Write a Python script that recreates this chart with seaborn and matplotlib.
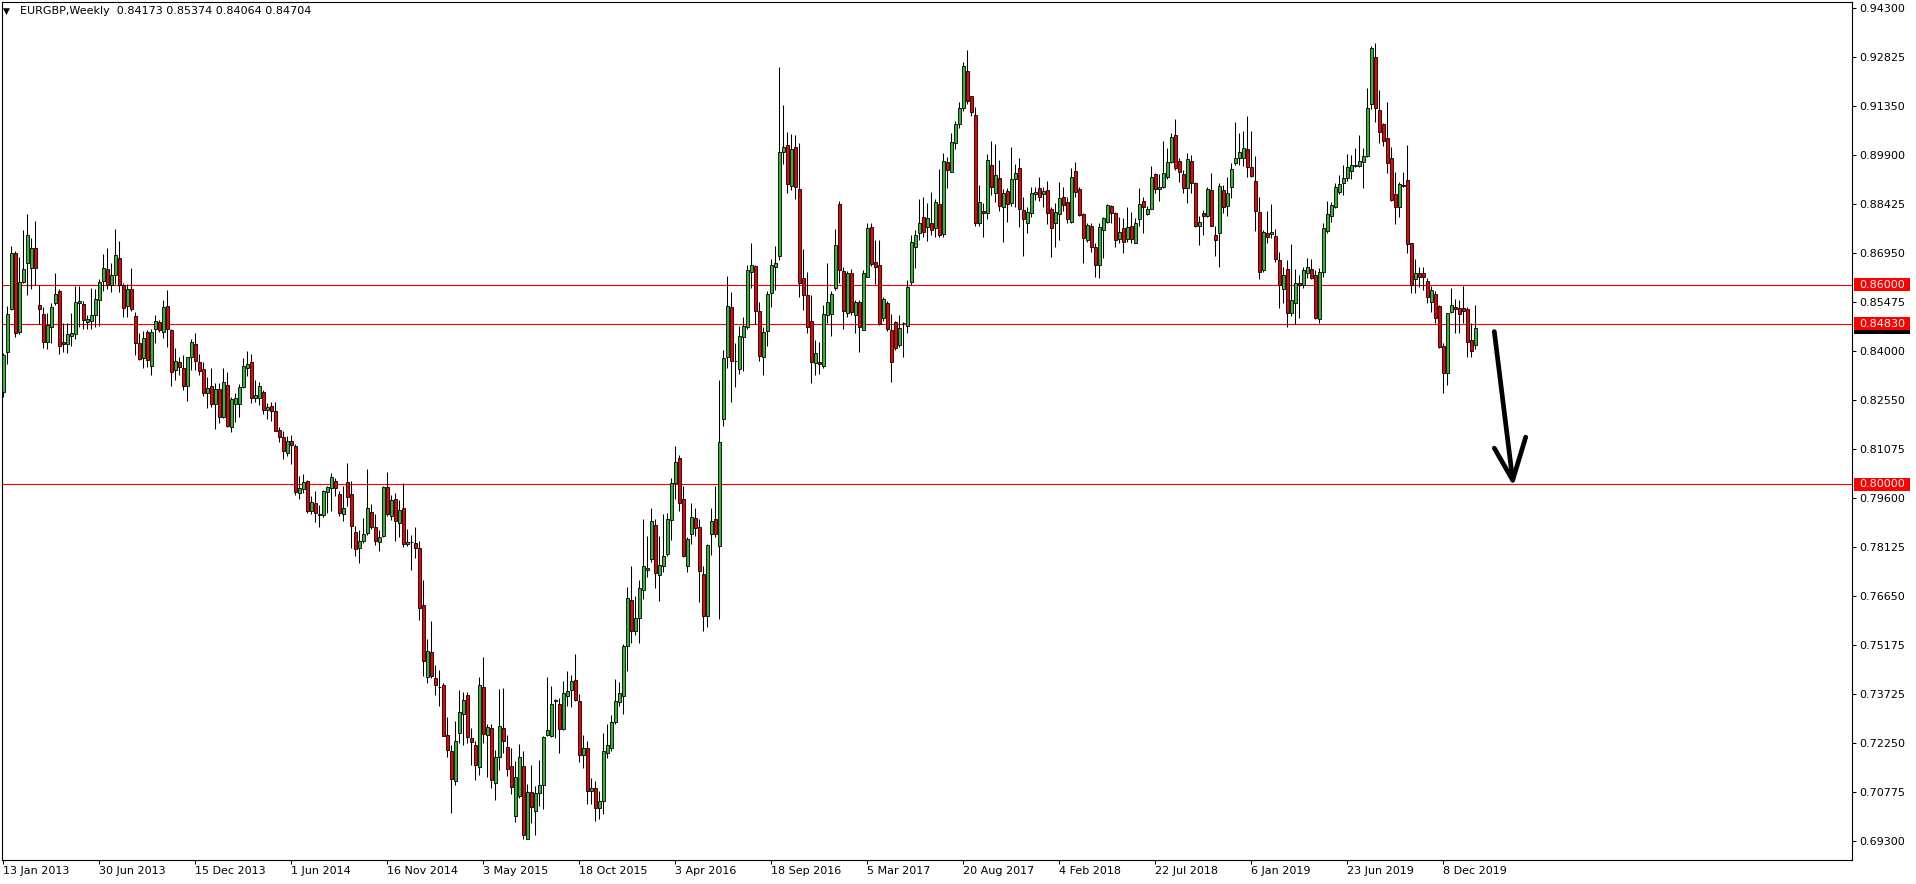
import matplotlib
matplotlib.use("Agg")
import matplotlib.pyplot as plt
import seaborn as sns
import pandas as pd
from matplotlib.transforms import IdentityTransform
from matplotlib.patches import Rectangle

# ---------------- data (EURGBP weekly) ----------------
opens = [
    .8277,.8399,.8528,.8695,.8458,.8607,.8666,.8649,.8709,.8538,
    .8511,.8427,.8472,.8544,.8581,.8427,.8423,.8447,.8451,.8544,
    .8542,.8487,.8490,.8508,.8554,.8610,.8646,.8599,.8630,.8679,
    .8598,.8535,.8587,.8505,.8425,.8381,.8458,.8355,.8466,.8487,
    .8459,.8535,.8463,.8343,.8367,.8349,.8295,.8384,.8422,.8368,
    .8346,.8276,.8295,.8241,.8286,.8204,.8298,.8174,.8241,.8241,
    .8294,.8351,.8367,.8261,.8261,.8277,.8223,.8235,.8220,.8163,
    .8143,.8093,.8131,.8116,.7974,.7986,.8010,.7919,.7944,.7912,
    .7908,.7977,.7989,.8010,.7971,.7912,.8007,.7972,.7857,.7808,
    .7830,.7854,.7918,.7871,.7826,.7844,.7992,.7904,.7956,.7884,
    .7929,.7820,.7827,.7824,.7809,.7638,.7422,.7497,.7419,.7393,
    .7398,.7248,.7201,.7109,.7253,.7311,.7368,.7239,.7219,.7152,
    .7392,.7247,.7269,.7104,.7182,.7269,.7212,.7154,.7006,.7066,
    .7154,.6936,.7076,.7019,.7074,.7098,.7247,.7244,.7350,.7341,
    .7266,.7364,.7382,.7414,.7351,.7189,.7210,.7080,.7090,.7030,
    .7050,.7195,.7208,.7287,.7347,.7364,.7514,.7653,.7561,.7600,
    .7683,.7743,.7776,.7877,.7727,.7756,.7792,.7892,.8004,.8079,
    .7957,.7756,.7851,.7899,.7872,.7732,.7604,.7851,.7895,.7815,
    .8198,.8383,.8532,.8370,.8348,.8442,.8472,.8639,.8656,.8522,
    .8382,.8462,.8574,.8654,.8687,.8999,.9018,.8897,.9012,.8886,
    .8619,.8569,.8491,.8364,.8369,.8356,.8509,.8512,.8589,.8842,
    .8641,.8514,.8634,.8509,.8547,.8464,.8624,.8774,.8668,.8658,
    .8500,.8544,.8464,.8489,.8419,.8484,.8476,.8609,.8714,.8756,
    .8802,.8772,.8784,.8769,.8842,.8751,.8967,.8939,.9024,.9081,
    .9129,.9241,.9166,.9109,.8786,.8821,.8816,.8959,.8874,.8919,
    .8834,.8882,.8846,.8916,.8949,.8824,.8784,.8814,.8871,.8889,
    .8871,.8884,.8827,.8784,.8811,.8864,.8847,.8787,.8941,.8886,
    .8812,.8734,.8776,.8712,.8659,.8764,.8789,.8836,.8814,.8738,
    .8769,.8736,.8776,.8726,.8796,.8851,.8812,.8828,.8932,.8886,
    .8892,.8922,.8969,.9049,.8972,.8932,.8889,.8972,.8904,.8777,
    .8814,.8806,.8884,.8749,.8756,.8884,.8836,.8894,.8964,.8981,
    .8981,.9007,.8953,.8911,.8817,.8644,.8754,.8752,.8746,.8674,
    .8586,.8646,.8516,.8546,.8606,.8599,.8636,.8646,.8629,.8497,
    .8637,.8761,.8806,.8834,.8879,.8906,.8919,.8942,.8956,.8956,
    .8969,.8987,.9141,.9282,.9124,.9082,.9039,.8979,.8872,.8832,
    .8900,.8914,.8724,.8616,.8634,.8634,.8612,.8549,.8571,.8536,
    .8416,.8336,.8519,.8532,.8529,.8529,.8526,.8434,.84173,
]
highs = [
    .8394,.8536,.8716,.8702,.8684,.8764,.8812,.8739,.8791,.8598,
    .8534,.8516,.8546,.8634,.8588,.8484,.8486,.8514,.8596,.8596,
    .8552,.8510,.8589,.8588,.8616,.8692,.8709,.8666,.8767,.8732,
    .8604,.8602,.8649,.8518,.8454,.8462,.8464,.8466,.8509,.8494,
    .8554,.8584,.8468,.8409,.8384,.8389,.8382,.8437,.8454,.8392,
    .8369,.8324,.8349,.8304,.8304,.8349,.8337,.8262,.8274,.8302,
    .8379,.8401,.8392,.8314,.8309,.8284,.8244,.8249,.8249,.8174,
    .8159,.8144,.8149,.8122,.8024,.8032,.8014,.7964,.7980,.7939,
    .7984,.7996,.8034,.8019,.7979,.7994,.8064,.8009,.7874,.7862,
    .7899,.8046,.7942,.7912,.7864,.7994,.8038,.7969,.7974,.7954,
    .8004,.7866,.7849,.7872,.7829,.7714,.7536,.7591,.7459,.7444,
    .7404,.7301,.7219,.7291,.7384,.7378,.7378,.7269,.7229,.7421,
    .7482,.7282,.7282,.7204,.7386,.7389,.7249,.7209,.7169,.7222,
    .7199,.7102,.7159,.7096,.7172,.7246,.7422,.7394,.7356,.7359,
    .7411,.7441,.7429,.7492,.7372,.7248,.7230,.7120,.7110,.7080,
    .7254,.7281,.7307,.7415,.7406,.7521,.7693,.7756,.7666,.7712,
    .7897,.7844,.7928,.7897,.7846,.7912,.7914,.8020,.8115,.8089,
    .7994,.7842,.7944,.7928,.7895,.7756,.7822,.7930,.7994,.8313,
    .8403,.8625,.8578,.8426,.8476,.8504,.8659,.8726,.8659,.8549,
    .8472,.8582,.8676,.8716,.9252,.9139,.9057,.9051,.9049,.9024,
    .8706,.8637,.8569,.8434,.8427,.8539,.8666,.8582,.8767,.8852,
    .8654,.8642,.8646,.8554,.8554,.8644,.8784,.8784,.8734,.8734,
    .8562,.8552,.8512,.8491,.8509,.8489,.8614,.8749,.8764,.8857,
    .8864,.8846,.8877,.8856,.8947,.8996,.8984,.9054,.9092,.9149,
    .9269,.9304,.9166,.9134,.8899,.8846,.8992,.9032,.9022,.8974,
    .8886,.8889,.9014,.8962,.8979,.8864,.8834,.8892,.8892,.8924,
    .8892,.8912,.8834,.8844,.8907,.8894,.8864,.8949,.8969,.8892,
    .8814,.8786,.8784,.8724,.8784,.8804,.8842,.8839,.8817,.8804,
    .8799,.8832,.8819,.8799,.8889,.8864,.8836,.8956,.8936,.8932,
    .9031,.9009,.9054,.9097,.8979,.8944,.8996,.8989,.8909,.8806,
    .8824,.8892,.8936,.8776,.8906,.8899,.8924,.8966,.9089,.9056,
    .9062,.9106,.9062,.8986,.8864,.8764,.8821,.8841,.8766,.8698,
    .8652,.8674,.8722,.8647,.8629,.8652,.8679,.8676,.8644,.8649,
    .8784,.8851,.8849,.8904,.8929,.8959,.8991,.8989,.9009,.9049,
    .9009,.9189,.9316,.9324,.9184,.9084,.9149,.9012,.8939,.8909,
    .8939,.9019,.8724,.8676,.8652,.8652,.8619,.8596,.8582,.8539,
    .8424,.8516,.8591,.8556,.8554,.8596,.8534,.8484,.85374,
]
lows = [
    .8262,.8361,.8524,.8444,.8452,.8604,.8570,.8586,.8599,.8481,
    .8411,.8406,.8424,.8539,.8393,.8399,.8396,.8416,.8436,.8474,
    .8468,.8468,.8466,.8474,.8477,.8582,.8586,.8578,.8601,.8577,
    .8502,.8504,.8522,.8389,.8374,.8349,.8352,.8329,.8424,.8459,
    .8439,.8414,.8297,.8314,.8329,.8284,.8251,.8344,.8344,.8328,
    .8266,.8229,.8232,.8166,.8186,.8199,.8174,.8156,.8189,.8202,
    .8289,.8326,.8244,.8249,.8239,.8212,.8196,.8192,.8159,.8126,
    .8077,.8084,.8062,.7969,.7957,.7974,.7914,.7912,.7886,.7871,
    .7902,.7914,.7919,.7964,.7906,.7889,.7934,.7809,.7784,.7764,
    .7824,.7849,.7866,.7819,.7799,.7842,.7904,.7894,.7829,.7842,
    .7812,.7816,.7744,.7779,.7592,.7426,.7404,.7419,.7369,.7336,
    .7244,.7181,.7014,.7099,.7224,.7219,.7224,.7159,.7114,.7129,
    .7224,.7122,.7089,.7052,.7144,.7194,.7124,.7072,.6986,.7059,
    .6936,.6936,.6984,.6947,.7036,.7026,.7244,.7242,.7239,.7194,
    .7264,.7334,.7332,.7349,.7166,.7150,.7040,.7040,.6990,.6995,
    .7010,.7180,.7200,.7281,.7334,.7311,.7439,.7525,.7547,.7525,
    .7657,.7723,.7767,.7690,.7650,.7736,.7785,.7833,.7957,.7921,
    .7782,.7736,.7822,.7844,.7648,.7561,.7571,.7789,.7842,.7595,
    .8176,.8350,.8247,.8294,.8333,.8342,.8466,.8589,.8482,.8372,
    .8329,.8416,.8532,.8584,.8674,.8962,.8876,.8884,.8856,.8564,
    .8524,.8456,.8304,.8329,.8332,.8349,.8484,.8446,.8584,.8606,
    .8467,.8504,.8509,.8454,.8399,.8464,.8622,.8656,.8602,.8479,
    .8492,.8462,.8309,.8404,.8414,.8382,.8456,.8599,.8649,.8734,
    .8744,.8732,.8749,.8742,.8742,.8742,.8889,.8937,.9007,.9071,
    .9122,.9142,.9106,.8776,.8776,.8744,.8796,.8869,.8849,.8822,
    .8729,.8789,.8836,.8834,.8774,.8687,.8756,.8804,.8854,.8852,
    .8834,.8782,.8684,.8714,.8734,.8822,.8786,.8786,.8862,.8806,
    .8664,.8729,.8699,.8624,.8619,.8679,.8784,.8786,.8714,.8724,
    .8696,.8729,.8724,.8724,.8776,.8756,.8809,.8826,.8874,.8852,
    .8889,.8916,.8966,.8944,.8909,.8874,.8846,.8876,.8774,.8719,
    .8749,.8804,.8776,.8686,.8654,.8814,.8806,.8861,.8959,.8959,
    .8956,.8924,.8924,.8762,.8616,.8639,.8724,.8739,.8669,.8529,
    .8544,.8472,.8506,.8482,.8499,.8589,.8619,.8616,.8496,.8486,
    .8622,.8756,.8789,.8829,.8871,.8869,.8912,.8916,.8952,.8954,
    .8889,.8984,.9127,.9089,.9026,.9016,.8936,.8852,.8782,.8802,
    .8894,.8694,.8574,.8574,.8594,.8584,.8544,.8519,.8484,.8409,
    .8274,.8299,.8516,.8454,.8454,.8484,.8384,.8384,.84064,
]
closes = [
    .8389,.8511,.8695,.8456,.8607,.8646,.8749,.8709,.8649,.8526,
    .8427,.8479,.8533,.8571,.8415,.8423,.8451,.8455,.8547,.8551,
    .8495,.8496,.8508,.8557,.8607,.8649,.8600,.8628,.8688,.8600,
    .8529,.8587,.8526,.8426,.8377,.8439,.8373,.8457,.8490,.8464,
    .8533,.8466,.8339,.8370,.8352,.8295,.8382,.8427,.8370,.8340,
    .8276,.8289,.8241,.8286,.8202,.8307,.8177,.8257,.8259,.8292,
    .8355,.8361,.8261,.8268,.8295,.8223,.8232,.8220,.8160,.8141,
    .8099,.8130,.8117,.7976,.7989,.8007,.7919,.7947,.7914,.7908,
    .7980,.7992,.8022,.7989,.7913,.7929,.7962,.7874,.7806,.7831,
    .7851,.7929,.7871,.7829,.7842,.7992,.7910,.7954,.7889,.7924,
    .7820,.7828,.7826,.7809,.7629,.7469,.7501,.7426,.7397,.7391,
    .7246,.7204,.7116,.7229,.7317,.7354,.7241,.7226,.7157,.7398,
    .7251,.7272,.7114,.7182,.7276,.7229,.7146,.7091,.7122,.7182,
    .6947,.7076,.7032,.7074,.7098,.7242,.7262,.7341,.7352,.7266,
    .7374,.7381,.7411,.7352,.7189,.7210,.7080,.7090,.7030,.7050,
    .7200,.7218,.7287,.7349,.7373,.7515,.7660,.7561,.7600,.7690,
    .7756,.7750,.7891,.7734,.7759,.7785,.7895,.8004,.8068,.7944,
    .7785,.7835,.7901,.7868,.7740,.7604,.7819,.7891,.7851,.8128,
    .8379,.8535,.8370,.8372,.8446,.8477,.8644,.8658,.8522,.8387,
    .8457,.8572,.8658,.8664,.8997,.9012,.8901,.9007,.8894,.8606,
    .8569,.8474,.8367,.8394,.8362,.8512,.8547,.8572,.8719,.8644,
    .8522,.8634,.8519,.8547,.8472,.8634,.8769,.8662,.8654,.8482,
    .8556,.8466,.8369,.8409,.8469,.8486,.8592,.8727,.8749,.8784,
    .8759,.8799,.8764,.8847,.8749,.8972,.8944,.9027,.9081,.9129,
    .9256,.9152,.9117,.8786,.8847,.8814,.8974,.8894,.8929,.8836,
    .8874,.8841,.8916,.8936,.8826,.8796,.8817,.8874,.8879,.8864,
    .8881,.8814,.8771,.8817,.8859,.8838,.8796,.8922,.8879,.8809,
    .8739,.8779,.8712,.8659,.8774,.8801,.8839,.8814,.8734,.8757,
    .8729,.8774,.8736,.8786,.8841,.8834,.8826,.8922,.8886,.8892,
    .8934,.8967,.9042,.8949,.8939,.8889,.8976,.8904,.8776,.8788,
    .8807,.8886,.8776,.8734,.8897,.8832,.8874,.8946,.8981,.8997,
    .9010,.8954,.8927,.8822,.8637,.8758,.8744,.8758,.8676,.8599,
    .8628,.8514,.8554,.8604,.8599,.8644,.8652,.8621,.8499,.8637,
    .8769,.8812,.8838,.8892,.8901,.8919,.8952,.8959,.8959,.8971,
    .8986,.9129,.9309,.9129,.9059,.9032,.8966,.8854,.8832,.8902,
    .8896,.8721,.8599,.8634,.8624,.8622,.8562,.8584,.8499,.8414,
    .8334,.8514,.8538,.8526,.8512,.8522,.8429,.8401,.84704,
]

date_labels = ["13 Jan 2013", "30 Jun 2013", "15 Dec 2013", "1 Jun 2014",
               "16 Nov 2014", "3 May 2015", "18 Oct 2015", "3 Apr 2016",
               "18 Sep 2016", "5 Mar 2017", "20 Aug 2017", "4 Feb 2018",
               "22 Jul 2018", "6 Jan 2019", "23 Jun 2019", "8 Dec 2019"]
label_step = 24  # bars between date labels

price_ticks = [0.94300, 0.92825, 0.91350, 0.89900, 0.88425, 0.86950,
               0.85475, 0.84000, 0.82550, 0.81075, 0.79600, 0.78125,
               0.76650, 0.75175, 0.73725, 0.72250, 0.70775, 0.69300]
levels = [0.86000, 0.84830, 0.80000]
last_price = 0.84704
title = "EURGBP,Weekly  0.84173 0.85374 0.84064 0.84704"

# arrow annotation (bar index, price)
arrow_shaft = ([372.75, 377.35], [0.8459, 0.8013])
arrow_head = ([372.75, 377.35, 380.6], [0.8109, 0.8013, 0.8142])

# ---------------- styling ----------------
GREEN = "#33b633"
RED = "#f00000"
W, H = 1916, 884

sns.set_theme(style="white")
plt.rcParams["font.family"] = ["DejaVu Sans"]

fig = plt.figure(figsize=(W / 100, H / 100), dpi=100)
fig.patch.set_facecolor("white")
ax = fig.add_axes([2 / W, 24 / H, 1850 / W, 858 / H])
ax.set_facecolor("white")

df = pd.DataFrame({"open": opens, "high": highs, "low": lows, "close": closes})
df["idx"] = range(len(df))
df["dir"] = ["up" if c >= o else "down" for o, c in zip(df["open"], df["close"])]

# level lines
for lv in levels:
    ax.axhline(lv, color="#ff0000", linewidth=0.8, zorder=1)

# wicks
ax.vlines(df["idx"], df["low"], df["high"], color="black", linewidth=0.75, zorder=2)
# bodies
for d, col in [("up", GREEN), ("down", RED)]:
    s = df[df["dir"] == d]
    h = (s["close"] - s["open"]).abs().clip(lower=0.00003)
    b = s[["open", "close"]].min(axis=1)
    ax.bar(s["idx"], h, bottom=b, width=0.8, color=col,
           edgecolor="black", linewidth=0.6, zorder=3)

# arrow
ax.plot(*arrow_shaft, color="black", linewidth=3.4, solid_capstyle="round", zorder=6)
ax.plot(*arrow_head, color="black", linewidth=3.4, solid_capstyle="round",
        solid_joinstyle="round", zorder=6)

ax.set_xlim(-0.325, 462.175)
ax.set_ylim(0.68730, 0.94480)

for sp in ax.spines.values():
    sp.set_visible(True)
    sp.set_color("black")
    sp.set_linewidth(0.8)

# y axis on the right
ax.yaxis.tick_right()
ax.set_yticks(price_ticks)
ax.set_yticklabels([f"{v:.5f}" for v in price_ticks])
ax.tick_params(axis="y", which="both", left=False, right=True, direction="out",
               length=2.9, width=0.75, pad=2.6, labelsize=8, colors="black")

# x axis dates
xt = [i * label_step for i in range(len(date_labels))]
ax.set_xticks(xt)
ax.set_xticklabels(date_labels, ha="left")
ax.tick_params(axis="x", which="both", bottom=True, top=False, direction="out",
               length=2.9, width=0.75, pad=1.5, labelsize=8, colors="black")

# price boxes on the right scale
ident = IdentityTransform()

def box_at(v, face, z):
    yd = ax.transData.transform((0, v))[1]
    fig.add_artist(Rectangle((1854, yd - 6.5), 56, 13, transform=ident,
                             facecolor=face, edgecolor="none", zorder=z))
    return yd

# current-price marker (mostly hidden under the 0.84830 label)
box_at(last_price, "black", 5)
for lv in levels:
    yd = box_at(lv, "#ff0000", 7)
    fig.text(1859, yd, f"{lv:.5f}", transform=ident, color="white",
             fontsize=8, va="center", ha="left", zorder=8)

# title
fig.text(3, H - 11, "\u25BC", transform=ident, fontsize=6.5, va="center", ha="left", color="black")
fig.text(20, H - 11, title, transform=ident, fontsize=8, va="center", ha="left", color="black")

fig.savefig("out.png", dpi=100, facecolor="white")
